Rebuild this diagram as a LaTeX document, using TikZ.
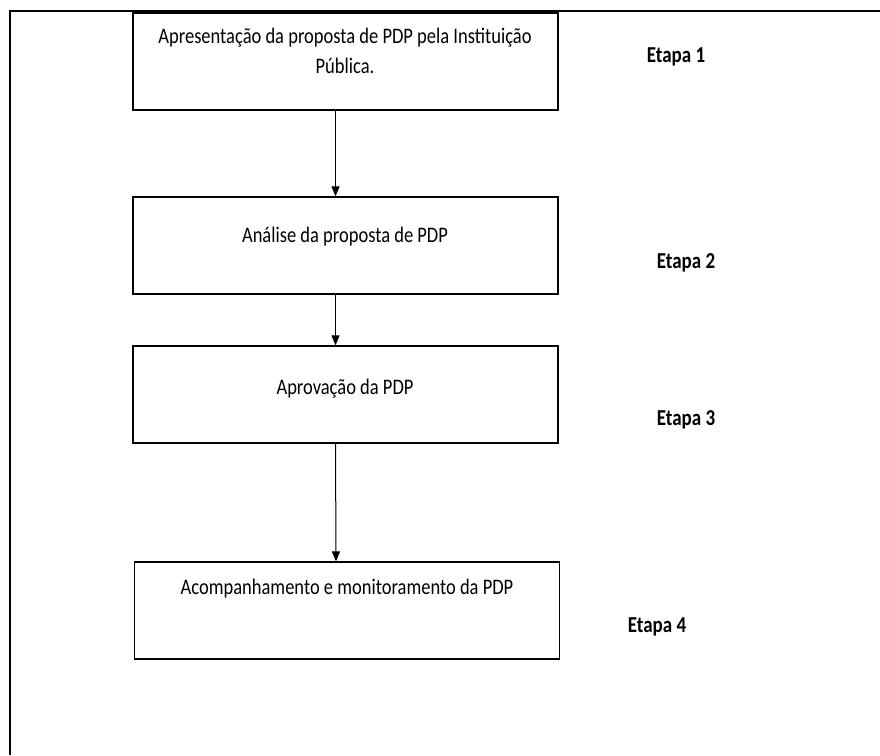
\documentclass[tikz,border=0pt]{standalone}
\usepackage{fontspec}
\setmainfont{Carlito}
\usetikzlibrary{arrows.meta}
\newcommand{\alto}[1]{\scalebox{1}[1.2]{#1}}
\tikzset{
  caixa/.style={draw, line width=1.3pt, minimum width=425pt, minimum height=97pt, inner sep=0pt},
  texto/.style={font=\fontsize{18.5}{30}\selectfont, align=center},
  etapa/.style={font=\bfseries\fontsize{19}{22}\selectfont},
  seta/.style={-{Triangle[length=10pt,width=8pt]}, line width=1pt}
}
\begin{document}
\begin{tikzpicture}[x=1pt,y=-1pt]
  \useasboundingbox (0,0) rectangle (880,755);
  % moldura
  \draw[line width=2pt] (10,755) -- (10,11) -- (880,11);
  % caixas das etapas
  \node[caixa] (s1) at (345.5,61.5) {};
  \node[caixa] (s2) at (345.5,245.5) {};
  \node[caixa] (s3) at (345.5,394.5) {};
  \node[caixa] (s4) at (347,610.5) {};
  \node[texto] (t1) at (345,51) {\alto{Apresentação da proposta de PDP pela Instituição}\\\alto{Pública.}};
  \node[texto] (t2) at (345,237) {\alto{Análise da proposta de PDP}};
  \node[texto] (t3) at (345,389) {\alto{Aprovação da PDP}};
  \node[texto] (t4) at (347,589) {\alto{Acompanhamento e monitoramento da PDP}};
  % rótulos
  \node[etapa] (e1) at (676,57) {\alto{Etapa 1}};
  \node[etapa] (e2) at (686,263) {\alto{Etapa 2}};
  \node[etapa] (e3) at (686,420) {\alto{Etapa 3}};
  \node[etapa] (e4) at (657,627) {\alto{Etapa 4}};
  % setas
  \draw[seta] ([xshift=-10pt]s1.south) -- ([xshift=-10pt]s2.north);
  \draw[seta] ([xshift=-10pt]s2.south) -- ([xshift=-10pt]s3.north);
  \draw[seta] ([xshift=-10pt]s3.south) -- ([xshift=-11pt]s4.north);
\end{tikzpicture}
\end{document}
